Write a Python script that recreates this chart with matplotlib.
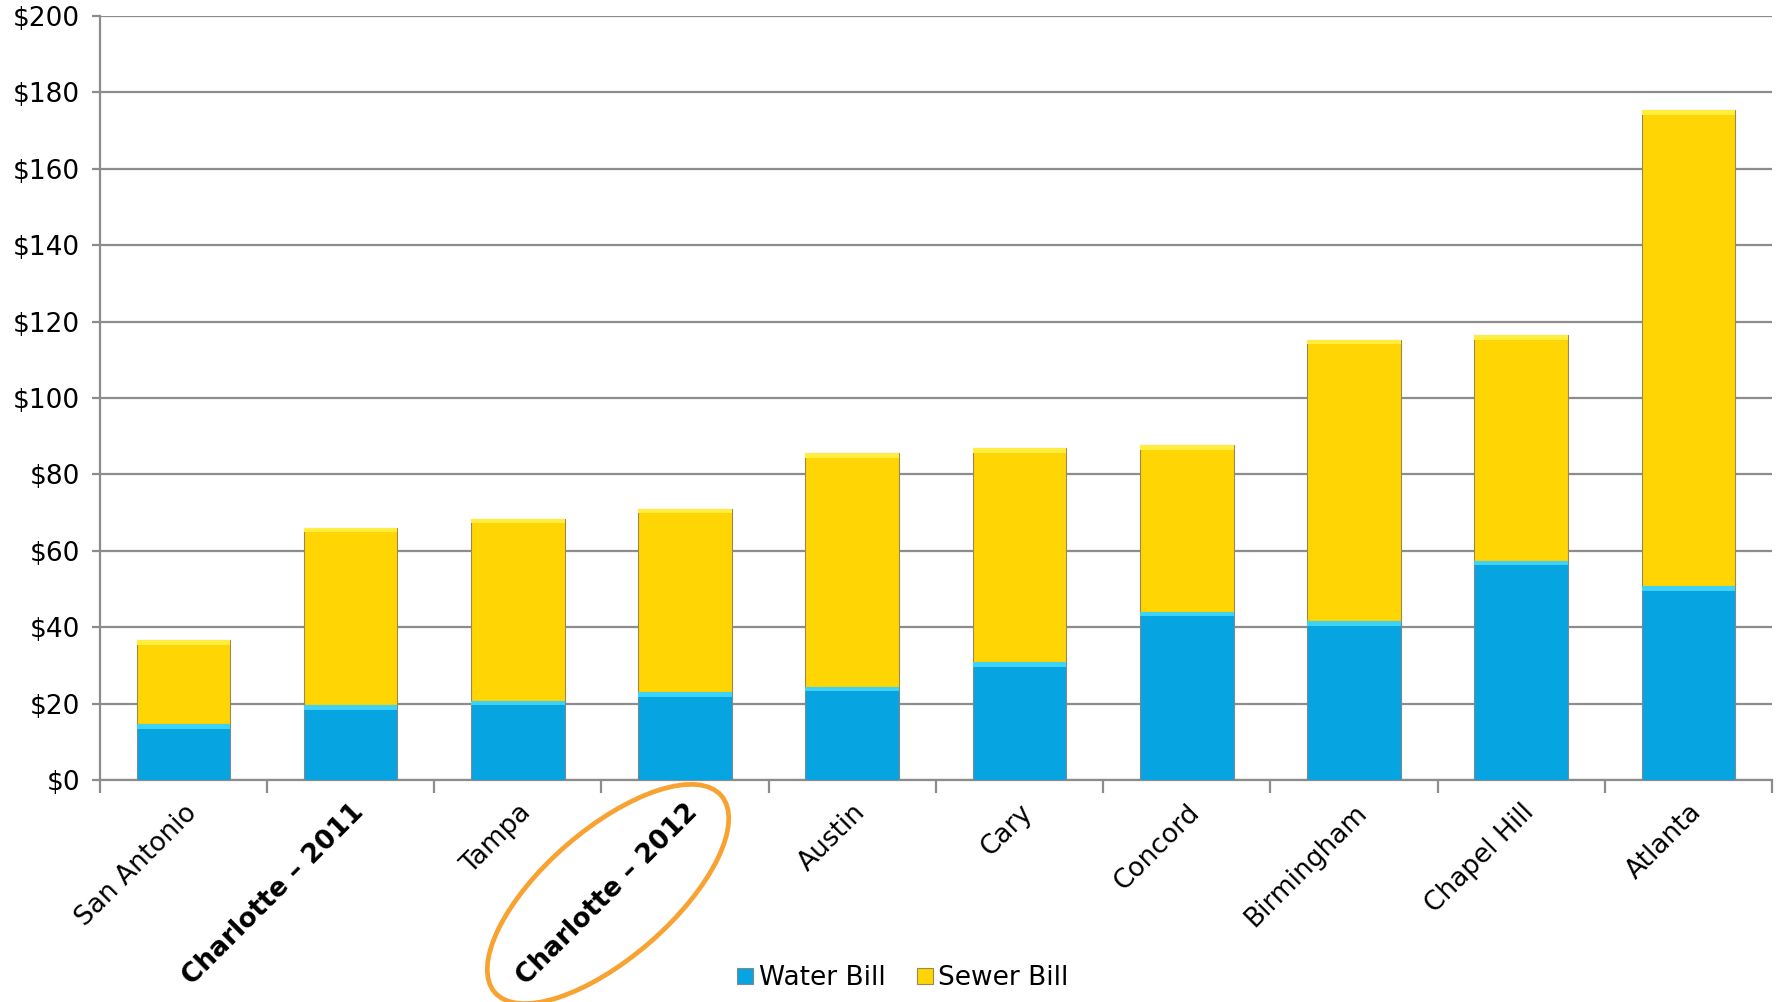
import matplotlib
matplotlib.use("Agg")
import matplotlib.pyplot as plt
from matplotlib.patches import Ellipse
from matplotlib.transforms import IdentityTransform
import numpy as np

# -------------------------------
# Data
# -------------------------------
cities = ["San Antonio", "Charlotte \u2013 2011", "Tampa", "Charlotte \u2013 2012",
          "Austin", "Cary", "Concord", "Birmingham", "Chapel Hill", "Atlanta"]
water_bill = [14.6, 19.6, 20.8, 22.9, 24.4, 30.9, 44.0, 41.6, 57.4, 50.8]
sewer_bill = [22.0, 46.4, 47.6, 48.1, 61.2, 55.9, 43.7, 73.7, 59.1, 124.5]
bold_labels = ["Charlotte \u2013 2011", "Charlotte \u2013 2012"]

water_color = "#07A4E2"
sewer_color = "#FFD503"
grid_color = "#8c8c8c"

# -------------------------------
# Plot
# -------------------------------
fig = plt.figure(figsize=(17.81, 10.02), dpi=100)
ax = fig.add_axes([0.056, 0.2216, 0.939, 0.7624])

x = np.arange(len(cities))
ax.bar(x, water_bill, width=0.56, color=water_color, edgecolor="#7a8a90",
       linewidth=0.8, label="Water Bill", zorder=3)
ax.bar(x, sewer_bill, width=0.56, bottom=water_bill, color=sewer_color,
       edgecolor="#9a8a50", linewidth=0.8, label="Sewer Bill", zorder=3)

# light band on top of each segment (bevel look)
ax.bar(x, [1.2] * len(x), width=0.56, bottom=np.array(water_bill) - 1.2,
       color="#3fd2f7", linewidth=0, zorder=4)
ax.bar(x, [1.2] * len(x), width=0.56,
       bottom=np.array(water_bill) + np.array(sewer_bill) - 1.2,
       color="#ffee40", linewidth=0, zorder=4)

ax.set_xlim(-0.5, len(cities) - 0.5)
ax.set_ylim(0, 200)
ax.set_yticks(range(0, 201, 20))
ax.set_yticklabels(["$%d" % v for v in range(0, 201, 20)], fontsize=19)
ax.yaxis.grid(True, color=grid_color, linewidth=1.6, zorder=0)
ax.set_axisbelow(True)

ax.set_xticks(x)
ax.set_xticklabels(cities, rotation=45, ha="right", va="top",
                   rotation_mode="anchor", fontsize=19)
for lbl in ax.get_xticklabels():
    if lbl.get_text() in bold_labels:
        lbl.set_fontweight("bold")
ax.tick_params(axis="x", which="major", length=0, pad=14)
ax.set_xticks(np.arange(-0.5, len(cities), 1.0), minor=True)
ax.tick_params(axis="x", which="minor", length=9, width=1.6, color=grid_color)
ax.tick_params(axis="y", length=6, width=1.6, color=grid_color, pad=8)

for side in ["top", "right"]:
    ax.spines[side].set_visible(False)
for side in ["left", "bottom"]:
    ax.spines[side].set_color(grid_color)
    ax.spines[side].set_linewidth(1.6)

# orange circle around Charlotte 2012
ell = Ellipse((608, 108), width=300, height=128, angle=41, fill=False,
              edgecolor="#F7A231", linewidth=3.4, transform=IdentityTransform())
fig.patches.append(ell)

fig.legend(loc="lower center", bbox_to_anchor=(0.507, -0.013), ncol=2,
           frameon=False, fontsize=19, handlelength=0.6, handleheight=0.6,
           handletextpad=0.2, columnspacing=1.2)

fig.savefig("out.png", dpi=100)
